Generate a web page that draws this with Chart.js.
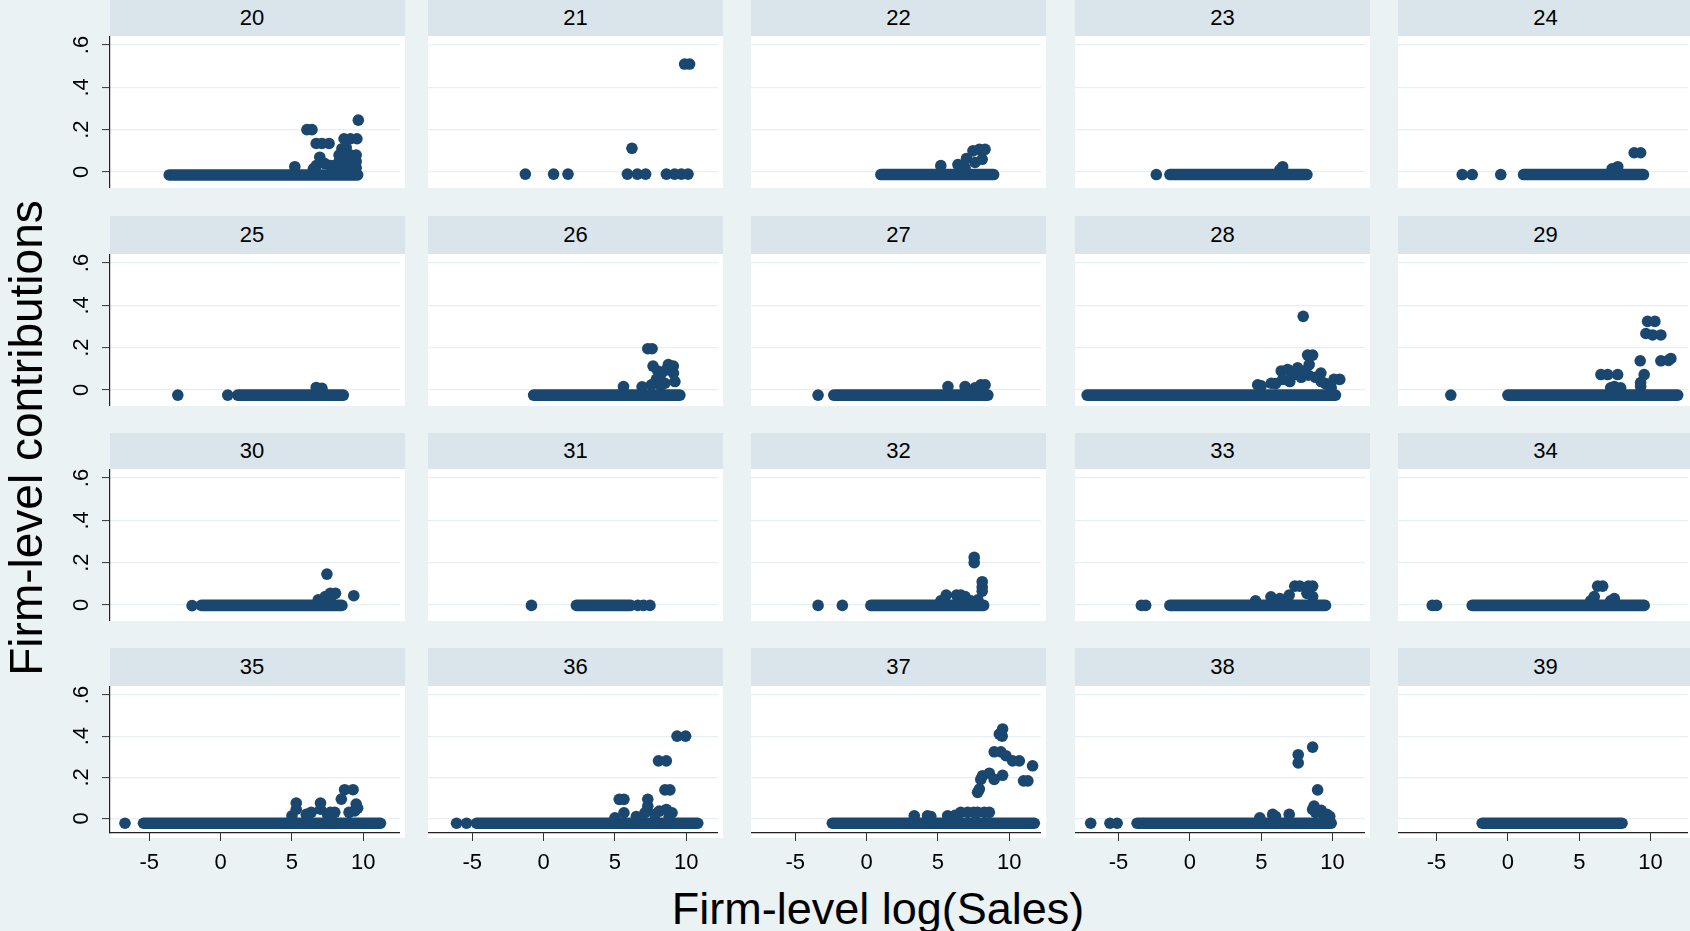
<!DOCTYPE html>
<html>
<head>
<meta charset="utf-8">
<script src="https://cdn.jsdelivr.net/npm/chart.js@4.4.1/dist/chart.umd.min.js"></script>
<style>
html,body{margin:0;padding:0;width:1690px;height:931px;overflow:hidden;background:#eaf2f3;font-family:"Liberation Sans",Arial,Helvetica,sans-serif;}
.strip{position:absolute;background:#d9e5eb;color:#000;font-size:22px;text-align:center;box-sizing:border-box;}
.plotbg{position:absolute;background:#ffffff;}
.cv{position:absolute;}
.title{position:absolute;color:#000;white-space:nowrap;text-align:center;}
</style>
</head>
<body>
<div id="root"></div>
<div class="title" id="ytitle" style="left:-274px;top:413px;width:600px;height:50px;line-height:50px;font-size:46px;transform:rotate(-90deg);">Firm-level contributions</div>
<div class="title" id="xtitle" style="left:578px;top:886px;width:600px;height:45px;line-height:45px;font-size:45px;">Firm-level log(Sales)</div>
<script>
// ---------------- data ----------------
const industries = ['20','21','22','23','24','25','26','27','28','29','30','31','32','33','34','35','36','37','38','39'];
const xTicks = [-5, 0, 5, 10];
const xTickLabels = ['-5', '0', '5', '10'];
const yTicks = [0, 0.2, 0.4, 0.6];
const yTickLabels = ['0', '.2', '.4', '.6'];

// level of the dense band of near-zero contributions, per industry
const baseLevel = [-0.014,-0.01,-0.012,-0.012,-0.012, -0.024,-0.024,-0.024,-0.024,-0.024,
                   -0.002,-0.002,-0.002,-0.002,-0.002, -0.023,-0.023,-0.023,-0.023,-0.023];

// dense runs of firms along the band: [from log sales, to log sales]
const runs20 = [[-3.6, 9.6]];
const runs21 = [];
const runs22 = [[1.0, 8.9]];
const runs23 = [[-1.4, 8.2]];
const runs24 = [[1.1, 9.5]];
const runs25 = [[1.2, 8.6]];
const runs26 = [[-0.7, 9.55]];
const runs27 = [[-2.3, 8.5]];
const runs28 = [[-7.2, 10.2]];
const runs29 = [[0.0, 11.9]];
const runs30 = [[-1.35, 8.5]];
const runs31 = [[2.3, 6.1]];
const runs32 = [[0.3, 8.2]];
const runs33 = [[-1.4, 9.5]];
const runs34 = [[-2.5, 9.55]];
const runs35 = [[-5.4, 11.2]];
const runs36 = [[-4.7, 10.8]];
const runs37 = [[-2.4, 11.75]];
const runs38 = [[-3.7, 9.9]];
const runs39 = [[-1.8, 8.0]];

// individual firms: [log sales, contribution]
const pts20 = [[5.2,0.025],[6.05,0.2],[6.4,0.2],[6.7,0.135],[7.1,0.135],[7.6,0.135],[8.65,0.157],[9.1,0.157],[9.55,0.157],[9.65,0.245],
  [8.5,0.11],[8.8,0.115],[8.3,0.08],[8.7,0.08],[9.1,0.08],[9.5,0.08],[8.3,0.05],[8.7,0.05],[9.1,0.05],[9.5,0.05],[8.3,0.02],[8.7,0.02],[9.1,0.02],[9.5,0.02],
  [6.95,0.07],[6.7,0.03],[7.3,0.04],[7.7,0.03],[6.5,0.015],[8.0,0.03]];
const pts21 = [[-1.28,-0.01],[0.7,-0.01],[1.71,-0.01],[5.87,-0.01],[6.57,-0.01],[7.15,-0.01],[8.6,-0.01],[9.18,-0.01],[9.65,-0.01],[10.12,-0.01],[6.19,0.112],[9.88,0.51],[10.23,0.51]];
const pts22 = [[5.2,0.03],[6.4,0.035],[7.0,0.064],[7.6,0.045],[7.45,0.1],[7.9,0.107],[8.3,0.107],[8.1,0.06],[6.9,0.02]];
const pts23 = [[-2.35,-0.012],[6.5,0.025],[6.3,0.01]];
const pts24 = [[-3.2,-0.012],[-2.5,-0.012],[-0.5,-0.012],[7.7,0.025],[7.3,0.015],[8.85,0.091],[9.3,0.091]];
const pts25 = [[-3.0,-0.024],[0.5,-0.024],[6.7,0.012],[7.1,0.008]];
const pts26 = [[5.6,0.016],[7.3,0.195],[7.6,0.195],[7.67,0.113],[8.74,0.12],[9.09,0.113],[8.27,0.08],[9.1,0.08],[7.9,0.05],[8.5,0.032],[7.55,0.024],[6.9,0.015],[8.2,0.02],[9.2,0.04],[8.0,0.09],[8.6,0.095]];
const pts27 = [[-3.4,-0.024],[5.7,0.016],[6.9,0.016],[8.0,0.024],[8.3,0.024],[7.6,0.01]];
const pts28 = [[7.94,0.348],[8.25,0.165],[8.6,0.165],[6.4,0.09],[6.85,0.097],[7.55,0.105],[8.36,0.12],[9.18,0.08],[10.1,0.05],[10.5,0.05],[4.75,0.024],[5.7,0.032],
  [5.0,0.02],[6.0,0.03],[7.0,0.04],[7.8,0.06],[8.3,0.07],[8.8,0.06],[9.2,0.04],[9.5,0.03],[6.5,0.05],[8.0,0.09],[7.2,0.07],[9.9,0.01]];
const pts29 = [[-4.0,-0.024],[9.79,0.324],[10.3,0.324],[9.67,0.267],[10.14,0.26],[10.72,0.26],[9.27,0.138],[10.72,0.138],[11.42,0.149],[11.25,0.14],
  [6.52,0.073],[6.99,0.073],[7.69,0.073],[9.55,0.073],[9.3,0.016],[9.3,0.035],[7.46,0.016],[7.2,0.01],[7.9,0.01]];
const pts30 = [[-2.0,-0.003],[7.45,0.146],[7.69,0.055],[7.33,0.04],[8.05,0.055],[6.84,0.024],[9.33,0.044],[7.7,0.02]];
const pts31 = [[-0.85,-0.002],[6.6,-0.002],[7.0,-0.002],[7.45,-0.002]];
const pts32 = [[-3.4,-0.002],[-1.7,-0.002],[7.54,0.2],[7.54,0.225],[8.1,0.11],[8.1,0.085],[8.1,0.065],[5.58,0.047],[6.3,0.047],[6.6,0.047],[6.9,0.04],[7.8,0.024],[5.2,0.02],[7.3,0.02]];
const pts33 = [[-3.4,-0.002],[-3.1,-0.002],[7.35,0.089],[7.7,0.089],[8.3,0.089],[8.6,0.089],[6.96,0.047],[5.68,0.039],[8.2,0.055],[8.6,0.04],[4.6,0.02],[6.3,0.03]];
const pts34 = [[-5.3,-0.002],[-5.0,-0.002],[6.29,0.089],[6.64,0.089],[6.05,0.04],[7.46,0.03],[7.2,0.02],[5.8,0.02]];
const pts35 = [[-6.7,-0.023],[5.3,0.045],[5.3,0.075],[7.0,0.045],[7.0,0.075],[8.69,0.14],[9.28,0.14],[8.46,0.094],[9.5,0.07],[9.4,0.037],[6.35,0.03],
  [7.5,0.02],[7.7,0.03],[5.0,0.013],[6.0,0.02],[8.0,0.03],[9.0,0.03],[9.6,0.05]];
const pts36 = [[-6.1,-0.023],[-5.4,-0.023],[9.35,0.4],[9.95,0.4],[8.05,0.28],[8.6,0.28],[8.5,0.139],[8.85,0.139],[7.3,0.093],[5.3,0.093],[5.63,0.093],
  [8.6,0.044],[8.1,0.036],[7.3,0.06],[7.1,0.028],[9.0,0.028],[5.63,0.028],[5.0,0.003],[6.5,0.01],[7.8,0.02],[8.8,0.01]];
const pts37 = [[9.53,0.435],[9.5,0.4],[9.3,0.41],[8.94,0.324],[9.41,0.324],[9.76,0.305],[10.23,0.28],[10.7,0.28],[11.63,0.256],[11.0,0.183],[11.3,0.183],
  [8.13,0.208],[8.6,0.22],[8.0,0.19],[8.94,0.19],[9.53,0.21],[7.78,0.127],[7.9,0.143],[7.08,0.03],[7.5,0.03],[7.78,0.03],[8.25,0.03],[8.6,0.03],
  [3.34,0.013],[4.27,0.013],[5.68,0.013],[6.6,0.03],[4.5,0.01],[6.2,0.015]];
const pts38 = [[-6.95,-0.023],[-5.6,-0.023],[-5.1,-0.023],[7.59,0.27],[7.59,0.31],[8.6,0.347],[8.95,0.139],[8.6,0.044],[8.7,0.06],[9.4,0.011],[9.6,0.02],
  [5.8,0.02],[6.96,0.02],[4.9,0.003],[8.8,0.03],[9.2,0.04],[9.8,0.01],[6.0,0.01]];
const pts39 = [];

const RUNS = [runs20,runs21,runs22,runs23,runs24,runs25,runs26,runs27,runs28,runs29,runs30,runs31,runs32,runs33,runs34,runs35,runs36,runs37,runs38,runs39];
const PTS  = [pts20,pts21,pts22,pts23,pts24,pts25,pts26,pts27,pts28,pts29,pts30,pts31,pts32,pts33,pts34,pts35,pts36,pts37,pts38,pts39];

// ---------------- layout / style ----------------
const NAVY = '#1a476f';
const FONT = '"Liberation Sans", Arial, Helvetica, sans-serif';
const R = 5.8;
const colLeft = [110, 428, 751, 1075, 1398];
const colXMin = [-7.75, -8.1, -8.1, -8.05, -7.7];
const X_SPAN = 20.32;
const stripTop = [0, 216, 433, 648];
const plotTop = [36, 254, 469, 686];
const PANEL_W = 295, AREA_W = 290;

const yLabelPlugin = {
  id: 'ylab',
  afterDraw(chart, args, opts) {
    if (!opts || !opts.show) return;
    const s = chart.scales.y, ctx = chart.ctx;
    ctx.save();
    ctx.fillStyle = '#000';
    ctx.font = '22px ' + FONT;
    ctx.textAlign = 'center';
    ctx.textBaseline = 'middle';
    yTicks.forEach((v, k) => {
      const py = s.getPixelForValue(v);
      ctx.save();
      ctx.translate(chart.chartArea.left - 28, py);
      ctx.rotate(-Math.PI / 2);
      ctx.fillText(yTickLabels[k], 0, 0);
      ctx.restore();
    });
    ctx.restore();
  }
};

const root = document.getElementById('root');
industries.forEach((id, i) => {
  const row = Math.floor(i / 5), col = i % 5;
  const firstCol = col === 0, lastRow = row === 3;
  const left = colLeft[col];

  const strip = document.createElement('div');
  strip.className = 'strip';
  const sh = plotTop[row] - stripTop[row];
  strip.style.cssText = `left:${left}px;top:${stripTop[row]}px;width:${PANEL_W}px;height:${sh}px;line-height:${sh}px;` +
    (firstCol ? 'padding-right:11px;' : '');
  strip.textContent = id;
  root.appendChild(strip);

  const bg = document.createElement('div');
  bg.className = 'plotbg';
  bg.style.cssText = `left:${left}px;top:${plotTop[row]}px;width:${PANEL_W}px;height:152px;`;
  root.appendChild(bg);

  const AX = firstCol ? 60 : 0;
  const BX = lastRow ? 50 : 0;
  const plotH = lastRow ? 147 : 152;
  const zeroOff = lastRow ? 132.5 : 136;
  const pxPerUnit = (zeroOff - 9) / 0.6;
  const yMax = 0.6 + 9 / pxPerUnit;
  const yMin = -(plotH - zeroOff) / pxPerUnit;

  const cv = document.createElement('canvas');
  cv.className = 'cv';
  cv.width = AREA_W + AX; cv.height = plotH + BX;
  cv.style.cssText = `left:${left - AX}px;top:${plotTop[row]}px;width:${AREA_W + AX}px;height:${plotH + BX}px;`;
  root.appendChild(cv);

  const base = baseLevel[i];
  const datasets = RUNS[i].map(r => ({
    type: 'line',
    data: [{x: r[0], y: base}, {x: r[1], y: base}],
    borderColor: NAVY, borderWidth: 2 * R, borderCapStyle: 'round',
    pointRadius: 0, fill: false, tension: 0
  }));
  datasets.push({
    type: 'scatter',
    data: PTS[i].map(p => ({x: p[0], y: p[1]})),
    backgroundColor: NAVY, borderWidth: 0, pointRadius: R, pointHoverRadius: R
  });

  new Chart(cv, {
    type: 'scatter',
    data: {datasets},
    plugins: [yLabelPlugin],
    options: {
      responsive: false, animation: false, devicePixelRatio: 1, events: [],
      layout: {padding: 0, autoPadding: false},
      plugins: {legend: {display: false}, tooltip: {enabled: false}, ylab: {show: firstCol}},
      scales: {
        x: {
          type: 'linear', position: 'bottom', min: colXMin[col], max: colXMin[col] + X_SPAN, display: lastRow,
          grid: {drawOnChartArea: false, drawTicks: true, tickLength: 8, tickColor: '#333', tickWidth: 1},
          border: {display: true, color: '#222', width: 1.2},
          ticks: {font: {family: FONT, size: 22}, color: '#000', padding: 9, maxRotation: 0, autoSkip: false,
                  callback: (v, k) => xTickLabels[k]},
          afterBuildTicks: s => { s.ticks = xTicks.map(v => ({value: v})); },
          afterFit: s => { s.height = BX; }
        },
        y: {
          type: 'linear', position: 'left', min: yMin, max: yMax, display: true,
          grid: {color: '#e6eff1', lineWidth: 1.2, drawTicks: firstCol, tickLength: 8, tickColor: '#333', tickWidth: 1},
          border: {display: firstCol, color: '#222', width: 1.2},
          ticks: {display: false},
          afterBuildTicks: s => { s.ticks = yTicks.map(v => ({value: v})); },
          afterFit: s => { s.width = AX; }
        }
      }
    }
  });
});
</script>
</body>
</html>
